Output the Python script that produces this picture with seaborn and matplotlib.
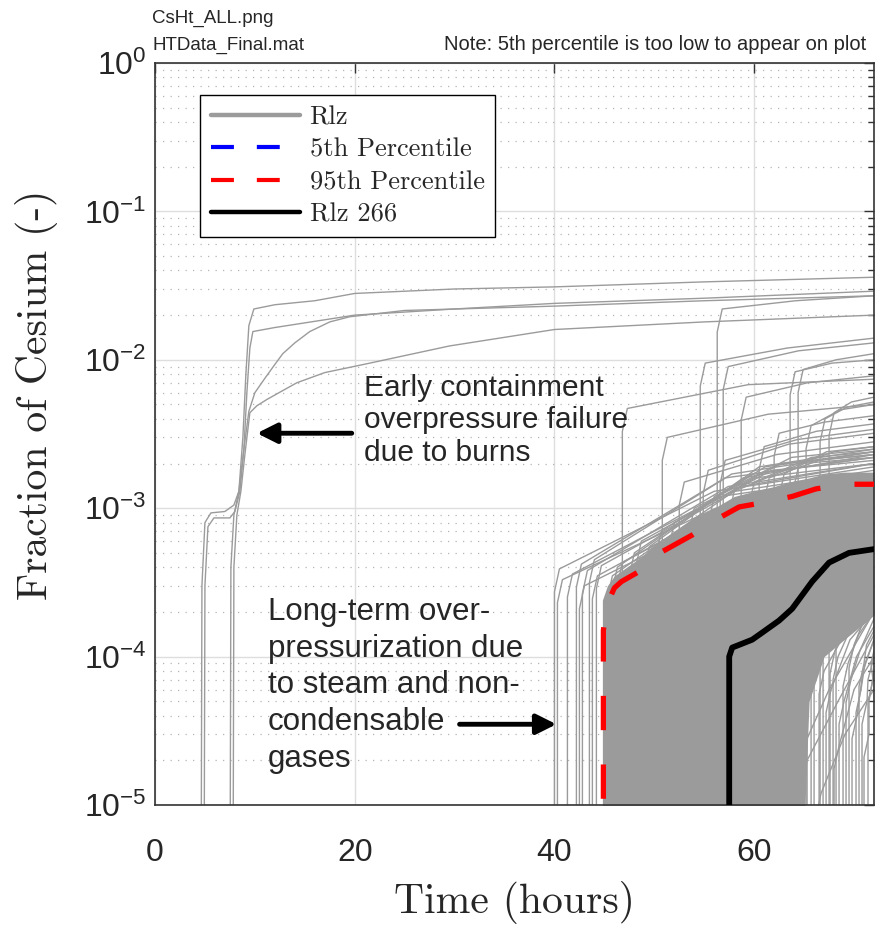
import numpy as np
import pandas as pd
import matplotlib
matplotlib.use("Agg")
import matplotlib.pyplot as plt
from matplotlib.lines import Line2D
from matplotlib.ticker import LogLocator, FuncFormatter, NullFormatter, FixedLocator
import seaborn as sns

# --- DATA ---
# early containment failure realizations (hours, fraction)
E1_T = [4.6, 4.7, 5.0, 5.6, 7.0, 7.9, 8.4, 8.8, 9.1, 9.4, 9.9, 12.0, 16.0, 20.0, 30.0, 40.0, 55.0, 72.0]
E1_Y = [1e-6, 3e-4, 8.0e-4, 9.3e-4, 9.5e-4, 1.05e-3, 1.3e-3, 3e-3, 8e-3, 1.7e-2, 2.2e-2, 2.35e-2, 2.5e-2, 2.8e-2, 3.0e-2, 3.1e-2, 3.35e-2, 3.6e-2]
E2_T = [4.9, 5.0, 5.3, 5.9, 7.5, 8.0, 8.5, 8.9, 9.2, 9.5, 9.8, 12.0, 20.0, 30.0, 40.0, 55.0, 72.0]
E2_Y = [1e-6, 3e-4, 7.5e-4, 8.6e-4, 8.6e-4, 9.5e-4, 1.3e-3, 2.5e-3, 6e-3, 1.2e-2, 1.55e-2, 1.65e-2, 2.0e-2, 2.2e-2, 2.4e-2, 2.6e-2, 2.9e-2]
E3_T = [7.5, 7.6, 7.9, 8.4, 8.9, 9.4, 10.0, 11.0, 12.0, 12.8, 14.0, 15.5, 17.5, 19.5, 25.0, 40.0, 55.0, 72.0]
E3_Y = [1e-6, 4e-4, 9e-4, 1.3e-3, 2.5e-3, 4.5e-3, 6e-3, 7.5e-3, 9.3e-3, 1.1e-2, 1.3e-2, 1.55e-2, 1.8e-2, 1.95e-2, 2.15e-2, 2.3e-2, 2.5e-2, 2.7e-2]
E4_T = [7.8, 7.9, 8.2, 8.6, 9.0, 9.5, 10.2, 11.2, 12.6, 14.2, 17.0, 21.2, 29.5, 40.0, 55.0, 72.0]
E4_Y = [1e-6, 4e-4, 9e-4, 1.3e-3, 2.3e-3, 4.4e-3, 4.9e-3, 5.4e-3, 6.1e-3, 7.0e-3, 8.2e-3, 9.4e-3, 1.24e-2, 1.6e-2, 1.8e-2, 2.0e-2]

# later realizations: onset time, level after jump, level halfway to 72 h, level at 72 h
HI_T0   = [46.8, 50.8, 54.6, 54.9, 56.3, 56.6, 56.9, 58.7, 63.6, 64.4, 65.2, 66.6, 67.5, 64.0, 52.5, 60.5, 62.0]
HI_KNEE = [4.7e-3, 3.0e-3, 9.5e-3, 1.8e-3, 2.2e-2, 2.1e-3, 9.0e-3, 5.6e-3, 8.3e-3, 8.6e-3, 3.6e-3, 4.0e-3, 4.4e-3, 2.0e-3, 1.5e-3, 2.6e-3, 3.2e-3]
HI_MID  = [6.8e-3, 4.3e-3, 1.2e-2, 2.7e-3, 2.5e-2, 2.9e-3, 1.15e-2, 7.0e-3, 9.5e-3, 1.0e-2, 4.6e-3, 4.8e-3, 5.2e-3, 2.4e-3, 2.3e-3, 3.3e-3, 3.8e-3]
HI_END  = [7.4e-3, 5.0e-3, 1.4e-2, 3.2e-3, 2.7e-2, 3.4e-3, 1.3e-2, 7.8e-3, 1.0e-2, 1.1e-2, 5.0e-3, 5.2e-3, 5.6e-3, 2.6e-3, 2.8e-3, 3.7e-3, 4.2e-3]

MID_T0   = [40.0, 40.3, 41.3, 42.2, 42.5, 42.8, 43.5, 43.8, 44.2, 45.3, 45.8, 46.3, 47.5, 48.2, 49.0, 50.2, 51.5, 53.5, 55.5, 57.5, 59.5, 61.0, 62.5]
MID_KNEE = [3.9e-4, 3.3e-4, 3.6e-4, 4.2e-4, 3.0e-4, 3.8e-4, 4.5e-4, 3.5e-4, 4.1e-4, 3.5e-4, 4.0e-4, 4.3e-4, 5.0e-4, 6.0e-4, 5.5e-4, 7.0e-4, 8.0e-4, 1.0e-3, 1.2e-3, 1.3e-3, 1.5e-3, 1.6e-3, 1.7e-3]
MID_MID  = [1.3e-3, 1.0e-3, 1.2e-3, 1.6e-3, 9.0e-4, 1.4e-3, 1.7e-3, 1.1e-3, 1.3e-3, 1.4e-3, 1.6e-3, 1.2e-3, 1.7e-3, 1.6e-3, 1.9e-3, 1.9e-3, 1.8e-3, 2.0e-3, 2.2e-3, 2.0e-3, 2.2e-3, 2.1e-3, 2.4e-3]
MID_END  = [1.9e-3, 1.5e-3, 1.7e-3, 2.2e-3, 1.3e-3, 2.0e-3, 2.4e-3, 1.6e-3, 1.8e-3, 2.0e-3, 2.3e-3, 1.7e-3, 2.2e-3, 2.0e-3, 2.5e-3, 2.4e-3, 2.1e-3, 2.3e-3, 2.5e-3, 2.2e-3, 2.4e-3, 2.3e-3, 2.6e-3]

LOW_T0   = [62.8, 63.3, 64.0, 64.6, 65.0, 65.3, 65.7, 66.0, 66.5, 66.9, 67.2, 67.6, 67.9, 68.2, 68.5, 68.9,
            69.2, 69.5, 69.8, 70.2, 70.5, 70.8, 71.0, 71.4, 63.0, 64.8, 66.2, 68.0]
LOW_KNEE = [1.3e-4, 1.0e-4, 9e-5, 1.1e-4, 1.5e-4, 7e-5, 1.3e-4, 1.2e-4, 8e-5, 1.4e-4, 6e-5, 1.1e-4, 1.0e-4, 1.6e-4, 5e-5, 9e-5,
            7e-5, 1.2e-4, 4e-5, 6e-5, 9e-5, 5e-5, 3e-5, 7e-5, 1.5e-5, 2.0e-5, 1.2e-5, 2.5e-5]
LOW_MID  = [3.0e-4, 2.5e-4, 2.2e-4, 2.4e-4, 3.0e-4, 1.7e-4, 2.6e-4, 2.2e-4, 1.5e-4, 2.4e-4, 1.3e-4, 1.9e-4, 1.7e-4, 2.3e-4, 1.0e-4, 1.4e-4,
            1.1e-4, 1.6e-4, 8e-5, 9e-5, 1.2e-4, 7e-5, 5e-5, 9e-5, 6e-5, 5e-5, 3e-5, 6e-5]
LOW_END  = [4.0e-4, 3.5e-4, 3.0e-4, 3.2e-4, 3.8e-4, 2.5e-4, 3.3e-4, 3.0e-4, 2.2e-4, 3.0e-4, 2.0e-4, 2.6e-4, 2.4e-4, 2.9e-4, 1.6e-4, 2.0e-4,
            1.8e-4, 2.1e-4, 1.3e-4, 1.3e-4, 1.5e-4, 1.0e-4, 8e-5, 1.1e-4, 2.0e-4, 1.4e-4, 6e-5, 1.0e-4]

# dense mass of realizations between ~45 and 72 h
T_BAND  = [44.8, 45.3, 46.0, 47.0, 48.5, 50.0, 52.0, 54.0, 56.0, 58.0, 60.0, 62.0, 63.5, 64.5, 65.5, 67.0, 69.0, 72.0]
BAND_HI = [2.4e-4, 3.0e-4, 3.5e-4, 3.9e-4, 4.6e-4, 5.6e-4, 7.0e-4, 8.6e-4, 1.0e-3, 1.2e-3, 1.3e-3, 1.4e-3, 1.5e-3, 1.55e-3, 1.6e-3, 1.7e-3, 1.75e-3, 1.75e-3]
BAND_LO = [1e-6, 1e-6, 1e-6, 1e-6, 1e-6, 1e-6, 1e-6, 1e-6, 1e-6, 1e-6, 1e-6, 1e-6, 1e-6, 1e-6, 5e-5, 1.0e-4, 1.3e-4, 1.9e-4]

# 95th percentile
P95_T = [44.9, 44.9, 45.2, 46.0, 46.7, 49.5, 50.8, 53.8, 55.8, 58.5, 61.2, 63.8, 66.2, 69.2, 72.0]
P95_Y = [1e-6, 1.5e-4, 2.2e-4, 2.9e-4, 3.2e-4, 4.1e-4, 5.1e-4, 6.6e-4, 8.1e-4, 1.02e-3, 1.10e-3, 1.2e-3, 1.35e-3, 1.45e-3, 1.45e-3]

# realization 266
R266_T = [57.5, 57.5, 57.8, 58.5, 59.8, 60.8, 62.5, 63.8, 65.8, 67.5, 69.5, 72.0]
R266_Y = [1e-6, 1.0e-4, 1.15e-4, 1.2e-4, 1.3e-4, 1.45e-4, 1.75e-4, 2.1e-4, 3.2e-4, 4.3e-4, 5.0e-4, 5.3e-4]

GRAY = "#9b9b9b"


def build_rlz():
    rows = []
    rid = 0
    for tt, yy in [(E1_T, E1_Y), (E2_T, E2_Y), (E3_T, E3_Y), (E4_T, E4_Y)]:
        for t, y in zip(tt, yy):
            rows.append((rid, t, y))
        rid += 1
    groups = [(HI_T0, HI_KNEE, HI_MID, HI_END),
              (MID_T0, MID_KNEE, MID_MID, MID_END),
              (LOW_T0, LOW_KNEE, LOW_MID, LOW_END)]
    for t0s, knees, mids, ends in groups:
        for t0, k, m, e in zip(t0s, knees, mids, ends):
            pts = [(t0, 1e-6), (t0, 0.7 * k), (t0 + 0.5, k), ((t0 + 72.0) / 2, m), (72.0, e)]
            for t, y in pts:
                rows.append((rid, t, y))
            rid += 1
    return pd.DataFrame(rows, columns=["rlz", "t", "frac"])


sns.set_style("white")
plt.rcParams["font.family"] = ["Liberation Sans Narrow", "Liberation Sans", "DejaVu Sans"]
CM = "cmr10"

fig = plt.figure(figsize=(8.81, 9.35), dpi=100)
ax = fig.add_axes([155 / 881, 1 - 805 / 935, 719 / 881, 742 / 935])

df = build_rlz()
ax.fill_between(T_BAND, BAND_LO, BAND_HI, color=GRAY, lw=0, zorder=2)
sns.lineplot(data=df, x="t", y="frac", units="rlz", estimator=None, sort=False,
             color=GRAY, lw=1.0, legend=False, ax=ax, zorder=2)
sns.lineplot(x=P95_T, y=P95_Y, estimator=None, sort=False, color="red", lw=3.8,
             linestyle=(0, (6.5, 6.5)), ax=ax, zorder=4)
sns.lineplot(x=R266_T, y=R266_Y, estimator=None, sort=False, color="black", lw=4.2,
             ax=ax, zorder=5)

ax.set_yscale("log")
ax.set_xlim(0, 72)
ax.set_ylim(1e-5, 1)
ax.xaxis.set_major_locator(FixedLocator([0, 20, 40, 60]))
ax.yaxis.set_major_locator(LogLocator(base=10, numticks=10))
ax.yaxis.set_minor_locator(LogLocator(base=10, subs=np.arange(2, 10), numticks=20))
ax.yaxis.set_minor_formatter(NullFormatter())
ax.yaxis.set_major_formatter(FuncFormatter(lambda v, p: r"$\mathregular{10^{%d}}$" % round(np.log10(v))))

ax.grid(which="major", color="#dedede", lw=1.0, ls="-")
ax.grid(which="minor", axis="y", color="#b5b5b5", lw=0.9, ls=(0, (1, 5)))
ax.set_axisbelow(True)
ax.tick_params(which="both", direction="in", top=True, right=True, color="#333333", labelsize=23)
ax.tick_params(which="major", length=7, width=1)
ax.tick_params(which="minor", length=4, width=1)
ax.tick_params(axis="x", pad=24)
ax.tick_params(axis="y", pad=6)
for s in ax.spines.values():
    s.set_color("#333333")
    s.set_linewidth(1.2)

ax.set_xlabel("Time (hours)", family=CM, fontsize=30)
ax.set_ylabel("Fraction of Cesium (-)", family=CM, fontsize=30)
ax.xaxis.set_label_coords(0.5, -0.102)
ax.yaxis.set_label_coords(-0.135, 0.553)

# legend
handles = [Line2D([], [], color=GRAY, lw=3.2),
           Line2D([], [], color="blue", lw=3.0, ls=(0, (5.5, 5.5))),
           Line2D([], [], color="red", lw=3.0, ls=(0, (5.5, 5.5))),
           Line2D([], [], color="black", lw=3.2)]
labels = ["Rlz", "5th Percentile", "95th Percentile", "Rlz 266"]
leg = ax.legend(handles, labels, loc="upper left", bbox_to_anchor=(0.0626, 0.957),
                prop={"family": CM, "size": 19}, handlelength=3.4, handletextpad=0.35,
                labelspacing=0.33, borderpad=0.4, borderaxespad=0,
                fancybox=False, framealpha=1, edgecolor="black")
leg.get_frame().set_linewidth(1.0)
leg.set_zorder(10)

# annotations
arrow_kw = dict(arrowstyle="-|>,head_length=0.6,head_width=0.3", color="black",
                lw=3.5, mutation_scale=20, shrinkA=0, shrinkB=0)
ax.annotate("", xy=(10.2, 3.2e-3), xytext=(19.7, 3.2e-3), arrowprops=arrow_kw, zorder=6)
ax.text(20.9, 3.9e-3, "Early containment\noverpressure failure\ndue to burns",
        family="Liberation Sans", fontsize=21.5, ha="left", va="center", linespacing=1.19, zorder=6)
ax.annotate("", xy=(40.2, 3.5e-5), xytext=(30.5, 3.5e-5), arrowprops=arrow_kw, zorder=6)
ax.text(11.3, 6.4e-5, "Long-term over-\npressurization due\nto steam and non-\ncondensable\ngases",
        family="Liberation Sans", fontsize=22.5, ha="left", va="center", linespacing=1.29, zorder=6)

# header texts
fig.text(152 / 881, 1 - 18 / 935, "CsHt_ALL.png", fontsize=13.5, va="center", ha="left")
fig.text(152 / 881, 1 - 45 / 935, "HTData_Final.mat", fontsize=13.5, va="center", ha="left")
fig.text(866 / 881, 1 - 45 / 935, "Note: 5th percentile is too low to appear on plot",
         fontsize=14.5, va="center", ha="right")

fig.savefig("out.png", dpi=100)
